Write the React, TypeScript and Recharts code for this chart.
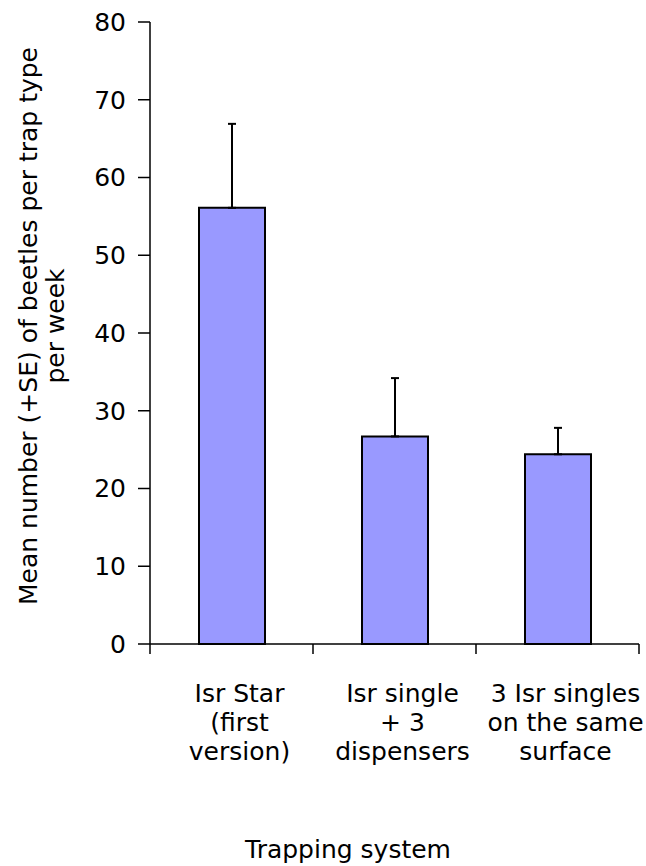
import React from "react";
import { BarChart, Bar, XAxis, YAxis, ErrorBar } from "recharts";

const categories = ["star", "single", "singles"];
const labelLines = [
  ["Isr Star", "(first", "version)"],
  ["Isr single", "+ 3", "dispensers"],
  ["3 Isr singles", "on the same", "surface"],
];
const means = [56.1, 26.7, 24.4];
const errors = [10.8, 7.5, 3.4];
const yTicks = [0, 10, 20, 30, 40, 50, 60, 70, 80];

const data = categories.map((c, i) => ({
  name: c,
  mean: means[i],
  err: [0, errors[i]],
}));

const FONT = "'DejaVu Sans', sans-serif";

// category labels + tick marks on the band edges (Excel style)
function CategoryTick(props: any) {
  const { x, y, payload, index } = props;
  const lines = labelLines[index] ?? [String(payload.value)];
  const half = payload?.offset ?? 0;
  const last = index === categories.length - 1;
  return (
    <g>
      {half > 0 && <line x1={x - half} x2={x - half} y1={y} y2={y + 10} stroke="#000" strokeWidth={1.5} />}
      {half > 0 && last && <line x1={x + half} x2={x + half} y1={y} y2={y + 10} stroke="#000" strokeWidth={1.5} />}
      <text x={x + 8} y={y} textAnchor="middle" fontFamily={FONT} fontSize={25} fill="#000">
        {lines.map((l, i) => (
          <tspan key={i} x={x + 8} dy={i === 0 ? 58 : 29}>
            {l}
          </tspan>
        ))}
      </text>
    </g>
  );
}

function YTitle() {
  return (
    <text transform="translate(37,326) rotate(-90)" textAnchor="middle" fontFamily={FONT} fontSize={25} fill="#000">
      <tspan x={0} y={0}>Mean number (+SE) of beetles per trap type</tspan>
      <tspan x={0} y={27}>per week</tspan>
    </text>
  );
}

export default function App() {
  return (
    <div style={{ position: "absolute", left: 0, top: 0, width: 646, height: 866, background: "#fff" }}>
      <BarChart width={646} height={866} data={data} margin={{ top: 22, right: 7, left: 0, bottom: 0 }}>
        <XAxis
          dataKey="name"
          height={222}
          axisLine={{ stroke: "#000", strokeWidth: 1.5 }}
          tickLine={false}
          tickSize={0}
          tickMargin={0}
          tick={<CategoryTick />}
          interval={0}
        />
        <YAxis
          domain={[0, 80]}
          ticks={yTicks}
          width={150}
          tickSize={12}
          tickMargin={12}
          interval={0}
          axisLine={{ stroke: "#000", strokeWidth: 1.5 }}
          tickLine={{ stroke: "#000", strokeWidth: 1.5 }}
          tick={{ fill: "#000", fontSize: 25, fontFamily: FONT }}
          label={{ content: () => <YTitle /> }}
        />
        <Bar
          dataKey="mean"
          fill="#9999FF"
          stroke="#000"
          strokeWidth={2}
          barSize={66}
          isAnimationActive={false}
        >
          <ErrorBar dataKey="err" direction="y" width={4} stroke="#000" strokeWidth={2} isAnimationActive={false} />
        </Bar>
        <text x={348} y={858} textAnchor="middle" fontFamily={FONT} fontSize={25} fill="#000">
          Trapping system
        </text>
      </BarChart>
    </div>
  );
}
